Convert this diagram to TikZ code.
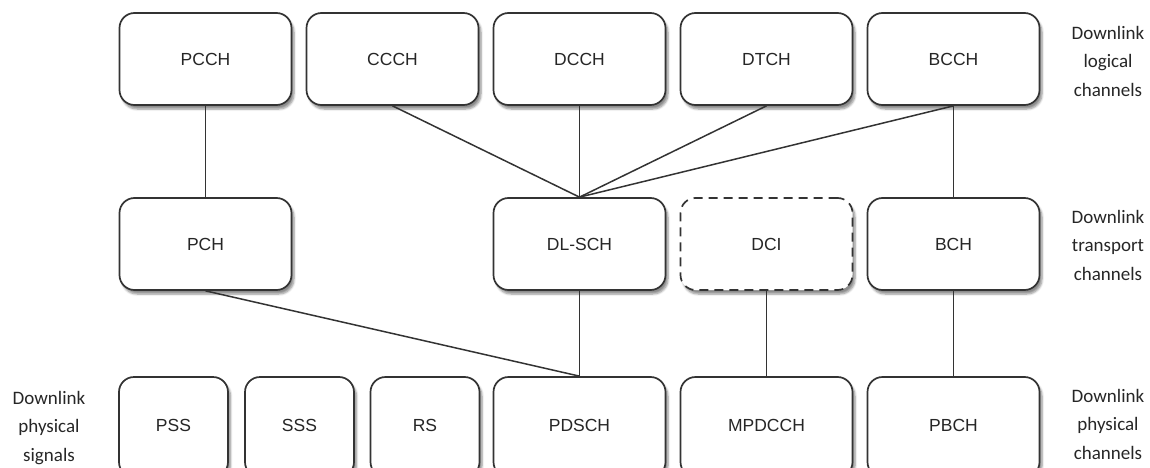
\documentclass[tikz,border=0pt]{standalone}
\usepackage{fontspec}
\setmainfont{Liberation Sans}
\newfontfamily\sidefont{Carlito}
\usetikzlibrary{shadows.blur}
\definecolor{edge}{HTML}{333333}
\definecolor{txt}{HTML}{262626}
\begin{document}
\begin{tikzpicture}[x=1pt,y=-1pt,
  chbox/.style={draw=edge, line width=1.7pt, rounded corners=15pt, fill=white,
    minimum width=172pt, minimum height=92pt, inner sep=0pt,
    font=\fontsize{17.5}{20}\selectfont, text=txt,
    blur shadow={shadow blur steps=6, shadow xshift=2.5pt, shadow yshift=-4pt, shadow opacity=45, shadow blur extra rounding=2pt}},
  smallbox/.style={chbox, minimum width=109pt},
  lowbox/.style={minimum height=100pt},
  dashbox/.style={chbox, dash pattern=on 9pt off 6pt},
  link/.style={draw=edge, line width=1.5pt},
  side/.style={align=center, text=txt, font=\sidefont\fontsize{19}{28.5}\selectfont, inner sep=0pt}
]
\useasboundingbox (0,0) rectangle (1150,468);
% row 1: logical channels
\node[chbox] (pcch) at (205.5,59) {PCCH};
\node[chbox] (ccch) at (392.5,59) {CCCH};
\node[chbox] (dcch) at (579.5,59) {DCCH};
\node[chbox] (dtch) at (766.5,59) {DTCH};
\node[chbox] (bcch) at (953.5,59) {BCCH};
% row 2: transport channels
\node[chbox] (pch) at (205.5,244) {PCH};
\node[chbox] (dlsch) at (579.5,244) {DL-SCH};
\node[dashbox] (dci) at (766.5,244) {DCI};
\node[chbox] (bch) at (953.5,244) {BCH};
% row 3: physical signals and channels
\node[smallbox, lowbox] (pss) at (173.5,427) {\raisebox{4pt}{PSS}};
\node[smallbox, lowbox] (sss) at (299.5,427) {\raisebox{4pt}{SSS}};
\node[smallbox, lowbox] (rs) at (425,427) {\raisebox{4pt}{RS}};
\node[chbox, lowbox] (pdsch) at (579.5,427) {\raisebox{4pt}{PDSCH}};
\node[chbox, lowbox] (mpdcch) at (766.5,427) {\raisebox{4pt}{MPDCCH}};
\node[chbox, lowbox] (pbch) at (953.5,427) {\raisebox{4pt}{PBCH}};
% connectors
\draw[link] (pcch.south) -- (pch.north);
\draw[link] (ccch.south) -- (dlsch.north);
\draw[link] (dcch.south) -- (dlsch.north);
\draw[link] (dtch.south) -- (dlsch.north);
\draw[link] (bcch.south) -- (dlsch.north);
\draw[link] (bcch.south) -- (bch.north);
\draw[link] (pch.south) -- (pdsch.north);
\draw[link] (dlsch.south) -- (pdsch.north);
\draw[link] (dci.south) -- (mpdcch.north);
\draw[link] (bch.south) -- (pbch.north);
% side labels
\node[side] (lab1) at (1108,61) {Downlink\\logical\\channels};
\node[side] (lab2) at (1108,245) {Downlink\\transport\\channels};
\node[side] (lab3) at (1108,424) {Downlink\\physical\\channels};
\node[side] (lab4) at (49,428) {Downlink\\physical\\signals};
\end{tikzpicture}
\end{document}
